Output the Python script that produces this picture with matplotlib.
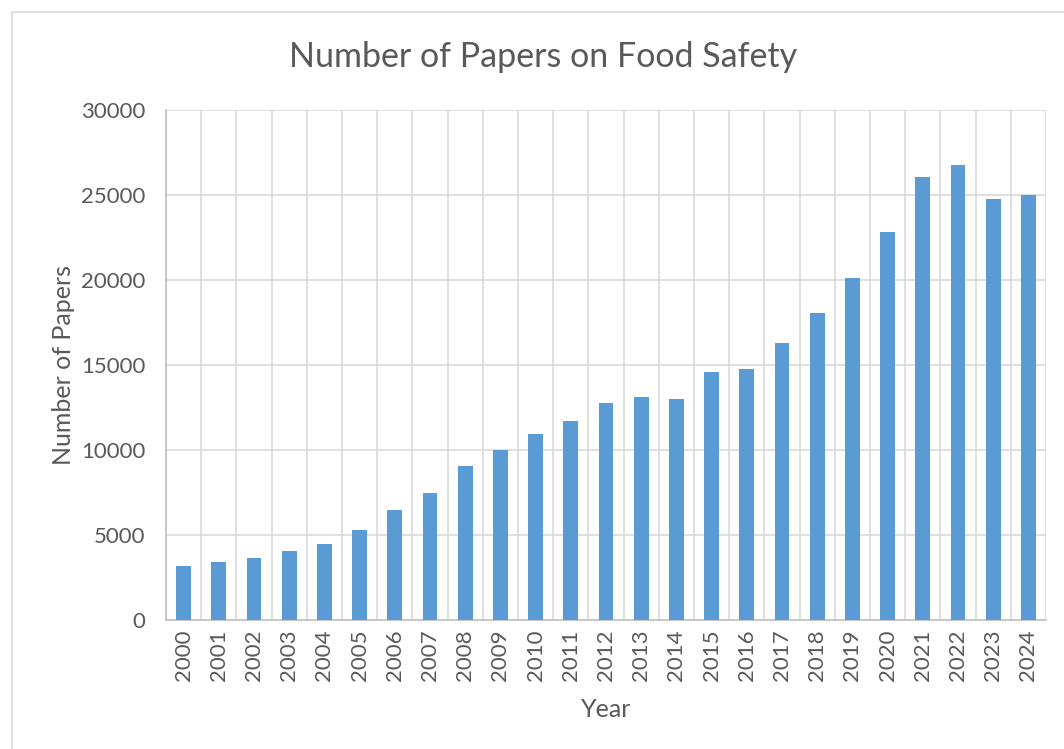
import matplotlib.pyplot as plt
import numpy as np
from matplotlib.patches import Rectangle

# yearly paper counts
years = [str(y) for y in range(2000, 2025)]
papers = [
    3150, 3430, 3650, 4030, 4490, 5300, 6480, 7500, 9050, 10000,
    10960, 11680, 12780, 13120, 13020, 14610, 14790, 16270, 18040,
    20090, 22820, 26050, 26770, 24740, 25000,
]
y_ticks = [0, 5000, 10000, 15000, 20000, 25000, 30000]

bar_color = "#5b9bd5"
grid_color = "#d9d9d9"
text_color = "#595959"

plt.rcParams["font.family"] = ["Lato", "DejaVu Sans"]

fig = plt.figure(figsize=(10.64, 7.49), dpi=100)
ax = fig.add_axes([166 / 1064, 1 - 620 / 749, 880 / 1064, 510 / 749])

# chart frame
fig.patches.append(
    Rectangle((12 / 1064, -0.05), 1.1, 1 - 12 / 749 + 0.05,
              transform=fig.transFigure, fill=False,
              edgecolor="#d9d9d9", linewidth=1.2, clip_on=False)
)

x = np.arange(len(years))
ax.bar(x, papers, width=0.42, color=bar_color, zorder=3)

ax.set_xlim(-0.5, len(years) - 0.5)
ax.set_ylim(0, 30000)
ax.set_yticks(y_ticks)
ax.set_yticklabels([str(t) for t in y_ticks])
ax.set_xticks(x)
ax.set_xticklabels(years, rotation=90)

# category boundaries as vertical gridlines
ax.set_xticks(np.arange(len(years) + 1) - 0.5, minor=True)
ax.grid(which="minor", axis="x", color=grid_color, linewidth=1.2, zorder=0)
ax.grid(which="major", axis="y", color=grid_color, linewidth=1.2, zorder=0)

ax.tick_params(axis="both", which="both", length=0, labelsize=16,
               labelcolor=text_color)
ax.tick_params(axis="x", pad=7)
ax.tick_params(axis="y", pad=15)

for side in ["top", "right"]:
    ax.spines[side].set_visible(False)
for side in ["left", "bottom"]:
    ax.spines[side].set_color("#bfbfbf")
    ax.spines[side].set_linewidth(1.2)

ax.set_xlabel("Year", fontsize=18, color=text_color, labelpad=12)
ax.set_ylabel("Number of Papers", fontsize=18, color=text_color, labelpad=4)
fig.text(543 / 1064, 1 - 57 / 749, "Number of Papers on Food Safety",
         ha="center", va="center", fontsize=24.5, color=text_color)

fig.savefig("out.png", dpi=100)
